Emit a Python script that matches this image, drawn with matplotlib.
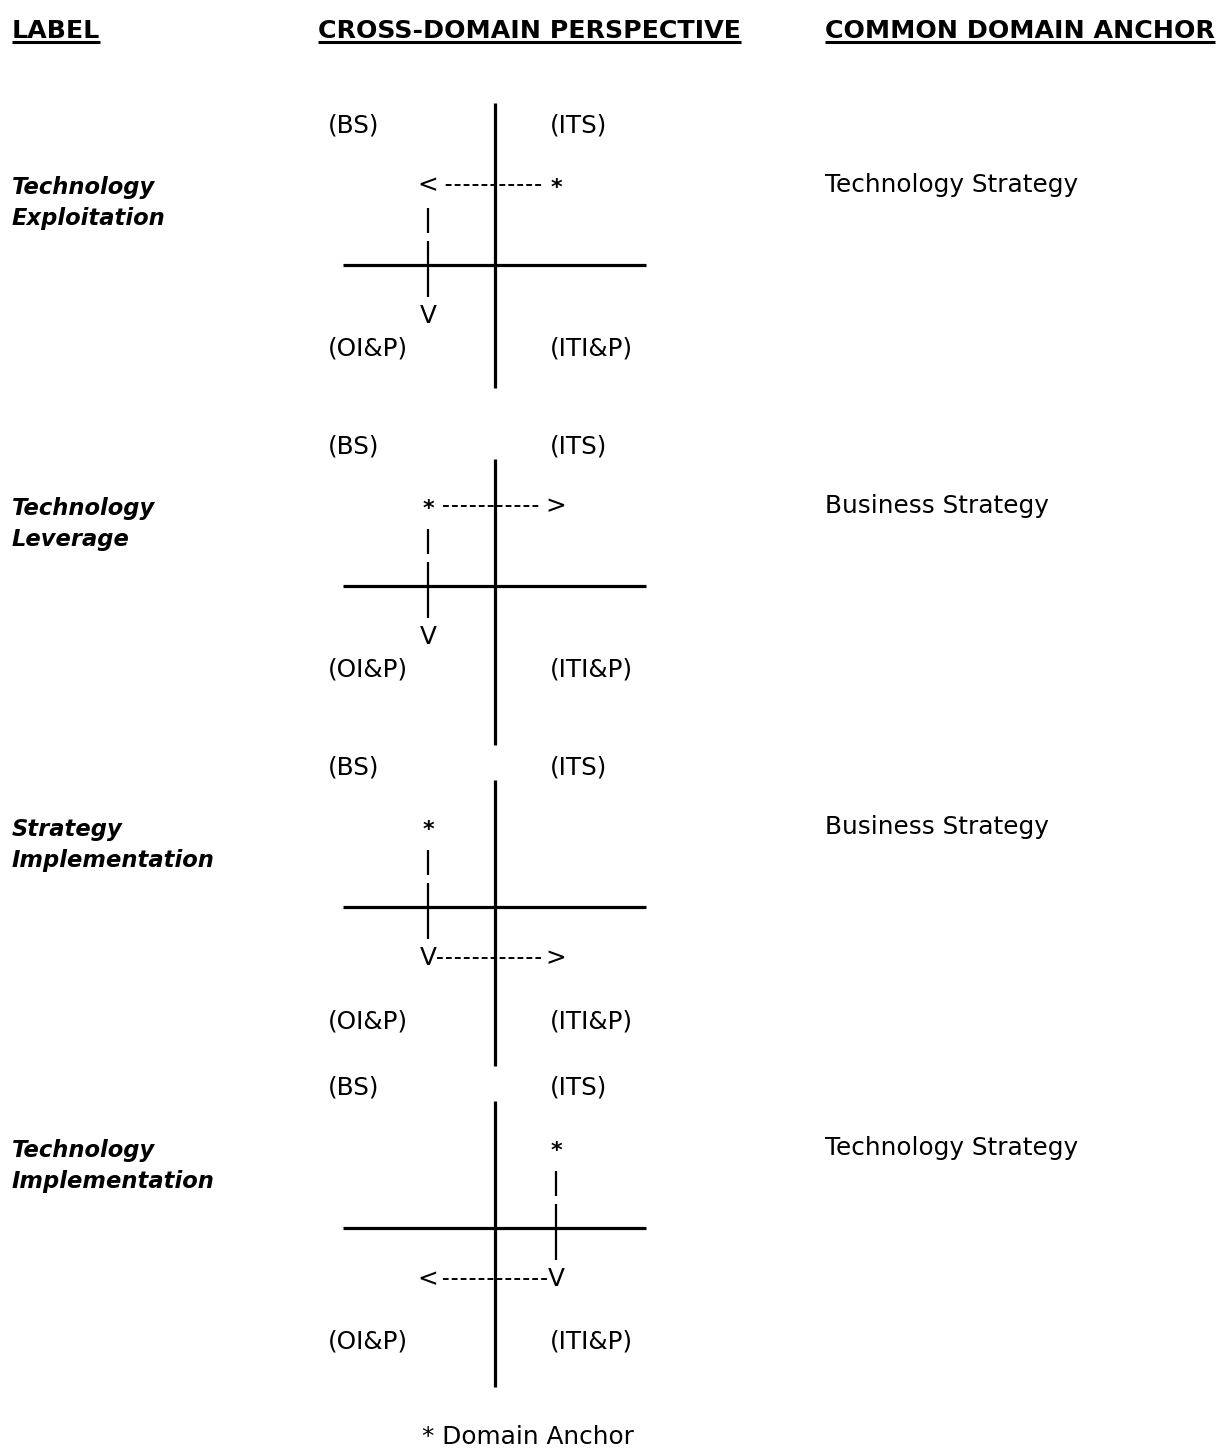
import matplotlib
matplotlib.use("Agg")
import matplotlib.pyplot as plt

# ---- content ----
headers = ["LABEL", "CROSS-DOMAIN PERSPECTIVE", "COMMON DOMAIN ANCHOR"]
perspective_labels = ["Technology\nExploitation", "Technology\nLeverage",
                      "Strategy\nImplementation", "Technology\nImplementation"]
anchor_labels = ["Technology Strategy", "Business Strategy",
                 "Business Strategy", "Technology Strategy"]
quadrant_names = ["BS", "ITS", "OI&P", "ITI&P"]
anchor_quadrant = ["ITS", "BS", "BS", "ITS"]
# alignment moves: (from quadrant, to quadrant, arrow glyph)
moves = [
    [("ITS", "BS", "<"), ("BS", "OI&P", "V")],
    [("BS", "ITS", ">"), ("BS", "OI&P", "V")],
    [("BS", "OI&P", "V"), ("OI&P", "ITI&P", ">")],
    [("ITS", "ITI&P", "V"), ("ITI&P", "OI&P", "<")],
]
footnote = "* Domain Anchor"

W, H = 1217, 1450
fig = plt.figure(figsize=(W / 100, H / 100), dpi=100)
ax = fig.add_axes([0, 0, 1, 1])
ax.set_xlim(0, W)
ax.set_ylim(H, 0)
ax.axis("off")

FONT = "DejaVu Sans"
fs = 17.8

# headers (bold, underlined)
hx = [12, 318, 825]
htexts = []
for x, t in zip(hx, headers):
    htexts.append(ax.text(x, 38, t, fontsize=18.2, fontweight="bold", family=FONT,
                          ha="left", va="baseline", color="black"))
fig.canvas.draw()
r = fig.canvas.get_renderer()
inv = ax.transData.inverted()
for t in htexts:
    bb = t.get_window_extent(r)
    (x0, _), (x1, _) = inv.transform([(bb.x0, bb.y0), (bb.x1, bb.y1)])
    ax.plot([x0, x1], [42, 42], color="black", lw=2.2, solid_capstyle="butt")

cx = 495
for i in range(4):
    cy = 265 + 321 * i
    L, R = cx - 67, cx + 61
    U, D = cy - 82, cy + 49
    cell = {"BS": (L, U), "ITS": (R, U), "OI&P": (L, D), "ITI&P": (R, D)}

    # axes of the 2x2 grid
    if i == 0:
        vtop, vbot = cy - 162, cy + 123
    else:
        vtop, vbot = cy - 127, cy + 159
    ax.plot([cx, cx], [vtop, vbot], color="black", lw=2.3, solid_capstyle="butt")
    ax.plot([cx - 152, cx + 151], [cy, cy], color="black", lw=2.3, solid_capstyle="butt")

    # quadrant labels
    lowy = cy + 83 if i < 2 else cy + 114
    ax.text(328, cy - 140, f"({quadrant_names[0]})", fontsize=fs, family=FONT,
            ha="left", va="center")
    ax.text(550, cy - 140, f"({quadrant_names[1]})", fontsize=fs, family=FONT,
            ha="left", va="center")
    ax.text(328, lowy, f"({quadrant_names[2]})", fontsize=fs, family=FONT,
            ha="left", va="center")
    ax.text(550, lowy, f"({quadrant_names[3]})", fontsize=fs, family=FONT,
            ha="left", va="center")

    # row labels
    ax.text(12, cy - 62, perspective_labels[i], fontsize=16.3, family=FONT,
            style="italic", fontweight="bold", ha="left", va="center",
            linespacing=1.45)
    ax.text(825, cy - 80, anchor_labels[i], fontsize=fs, family=FONT,
            ha="left", va="center")

    # domain anchor star
    sx, sy = cell[anchor_quadrant[i]]
    ax.text(sx, sy + 5, "*", fontsize=16, fontweight="bold", family=FONT,
            ha="center", va="center")

    # moves
    for a, b, g in moves[i]:
        (x0, y0), (x1, y1) = cell[a], cell[b]
        ax.text(x1, y1 + 2, g, fontsize=fs, family=FONT, ha="center", va="center")
        if y0 == y1:
            s = 1 if x1 > x0 else -1
            gs = 15 if a == anchor_quadrant[i] else 9
            ax.plot([x0 + s * gs, x1 - s * 15], [y0 + 2, y1 + 2], color="black",
                    lw=1.4, dashes=(3, 1.6))
        else:
            ax.plot([x0, x1], [y0 + 25, y0 + 50], color="black", lw=1.6,
                    solid_capstyle="butt")
            ax.plot([x0, x1], [y0 + 58, y1 - 17], color="black", lw=1.6,
                    solid_capstyle="butt")

ax.text(528, 1437, footnote, fontsize=fs, family=FONT, ha="center", va="center")

fig.savefig("out.png", dpi=100)
